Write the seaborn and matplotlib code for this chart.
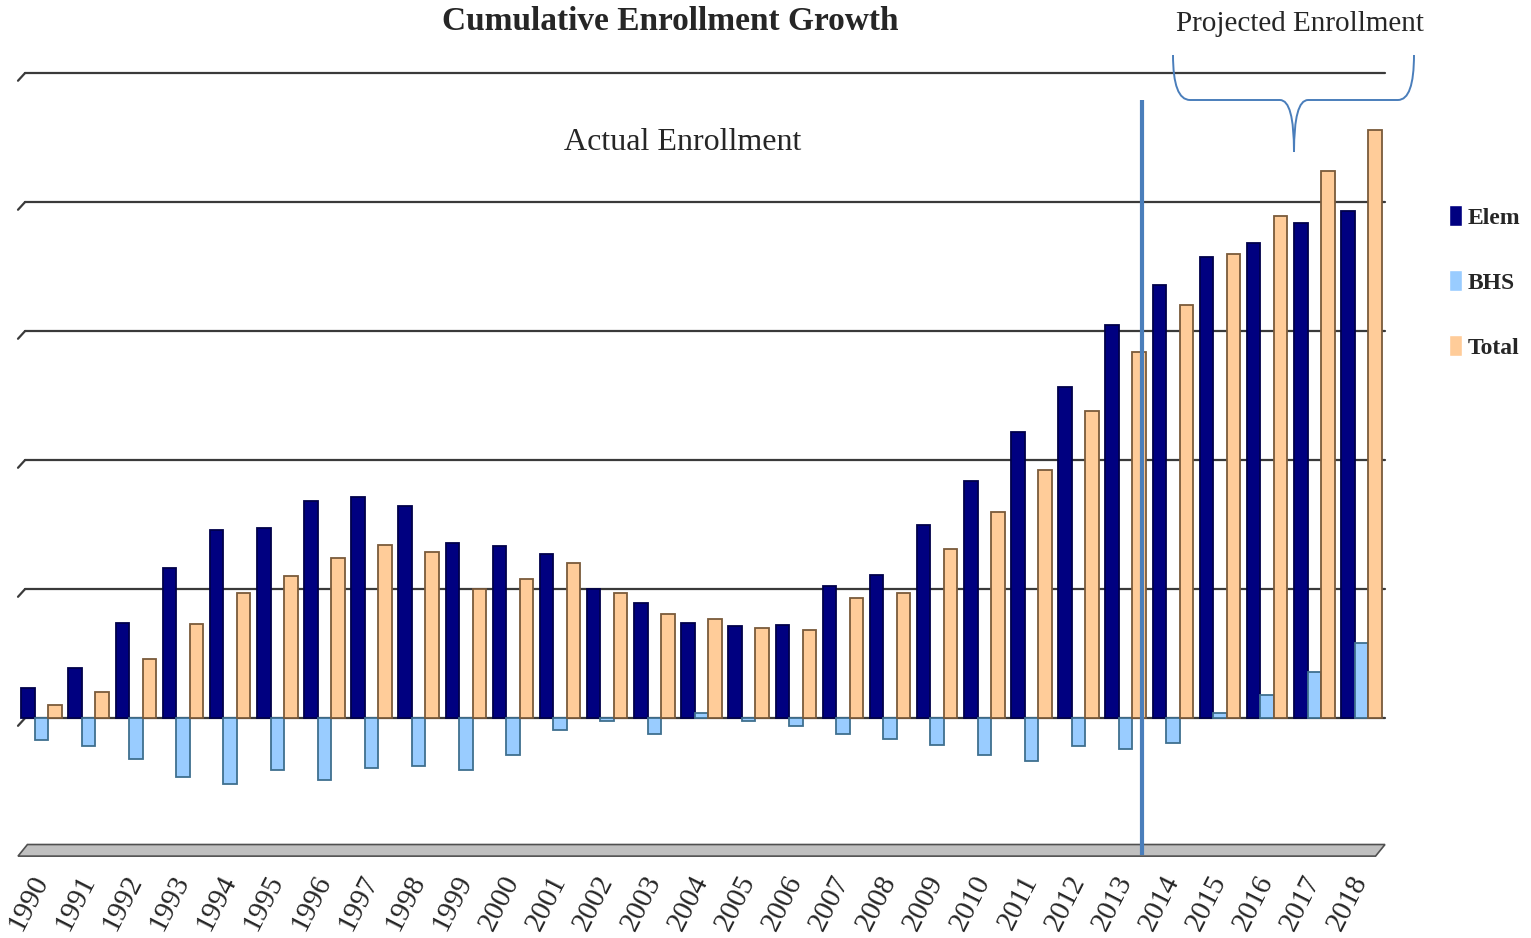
import seaborn as sns
import pandas as pd
from matplotlib import pyplot as plt
from matplotlib.path import Path
from matplotlib.patches import PathPatch, Polygon

years = ['1990', '1991', '1992', '1993', '1994', '1995', '1996', '1997', '1998', '1999',
         '2000', '2001', '2002', '2003', '2004', '2005', '2006', '2007', '2008', '2009',
         '2010', '2011', '2012', '2013', '2014', '2015', '2016', '2017', '2018']
elem = [23, 39, 74, 116, 146, 147, 168, 171, 164, 136, 133, 127, 100, 89, 74, 71, 72,
        102, 111, 150, 184, 222, 257, 305, 336, 357, 368, 384, 393]
bhs = [-17, -22, -32, -46, -51, -40, -48, -39, -37, -40, -29, -9, -2, -12, 4, -2, -6,
       -12, -16, -21, -29, -33, -22, -24, -19, 4, 18, 36, 58]
total = [10, 20, 46, 73, 97, 110, 124, 134, 129, 100, 108, 120, 97, 81, 77, 70, 68,
         93, 97, 131, 160, 192, 238, 284, 320, 360, 389, 424, 456]
series = ['Elem', 'BHS', 'Total']
colors = ['#000080', '#99ccff', '#ffcc99']
edges = ['#00004a', '#3f6f8f', '#7a5a3a']

df = pd.DataFrame({'year': years * 3,
                   'series': [s for s in series for _ in years],
                   'value': elem + bhs + total})

sns.set_style('white')
W, H = 1531, 938
fig = plt.figure(figsize=(W / 100, H / 100), dpi=100)
ax = fig.add_axes([18 / W, 1 - 860 / H, 1367 / W, 787 / H])

sns.barplot(data=df, x='year', y='value', hue='series', palette=colors,
            width=0.86, saturation=1, ax=ax, zorder=3)
for cont, ec in zip(ax.containers, edges):
    for p in cont:
        p.set_edgecolor(ec)
        p.set_linewidth(1.3)

ax.set_xlim(-0.5, 28.5)
ax.set_ylim(-110, 500)

# gridlines with little perspective ticks at the left
for y in [0, 100, 200, 300, 400, 500]:
    ax.plot([-0.35, 28.5], [y, y], color='#3a3a3a', lw=1.6, zorder=1, clip_on=False)
    ax.plot([-0.5, -0.35], [y - 6, y], color='#3a3a3a', lw=1.6, zorder=1, clip_on=False)

# floor
ax.add_patch(Polygon([(-0.5, -107), (-0.3, -98), (28.5, -98), (28.3, -107)],
                     closed=True, facecolor='#c0c0c0', edgecolor='#505050', lw=1.2,
                     zorder=2, clip_on=False))

# separator between actual and projected
ax.vlines(23.35, -106, 479, color='#4a7ebb', lw=3, zorder=4)

for s in ax.spines.values():
    s.set_visible(False)
ax.set_yticks([])
ax.set_xlabel('')
ax.set_ylabel('')
ax.tick_params(axis='x', length=0, pad=12)
for lbl in ax.get_xticklabels():
    lbl.set_rotation(63)
    lbl.set_ha('right')
    lbl.set_va('center')
    lbl.set_rotation_mode('anchor')
    lbl.set_family('Liberation Serif')
    lbl.set_fontsize(21)

handles, labels = ax.get_legend_handles_labels()
ax.legend(handles, labels, loc='upper left', bbox_to_anchor=(1449 / W, 1 - 205 / H),
          bbox_transform=fig.transFigure, frameon=False, labelspacing=1.75,
          borderpad=0, borderaxespad=0,
          handlelength=0.55, handleheight=1.0, handletextpad=0.25,
          prop={'family': 'Liberation Serif', 'weight': 'bold', 'size': 17})


def fx(x, y):
    return (x / W, 1 - y / H)


fig.text(*fx(670, 22), 'Cumulative Enrollment Growth', ha='center', va='center',
         fontsize=24, fontweight='bold', family='Liberation Serif')
fig.text(*fx(683, 143), 'Actual Enrollment', ha='center', va='center',
         fontsize=23, family='Liberation Serif')
fig.text(*fx(1300, 24), 'Projected Enrollment', ha='center', va='center',
         fontsize=21, family='Liberation Serif')

# curly brace over the projected years
pts = [(1173, 55), (1173, 100), (1190, 100), (1280, 100), (1294, 100), (1294, 152),
       (1294, 100), (1308, 100), (1398, 100), (1414, 100), (1414, 55)]
codes = [Path.MOVETO, Path.CURVE3, Path.CURVE3, Path.LINETO, Path.CURVE3, Path.CURVE3,
         Path.CURVE3, Path.CURVE3, Path.LINETO, Path.CURVE3, Path.CURVE3]
brace = PathPatch(Path([fx(*p) for p in pts], codes), transform=fig.transFigure,
                  facecolor='none', edgecolor='#4a7ebb', lw=1.4)
fig.patches.append(brace)

fig.savefig('out.png', dpi=100)
